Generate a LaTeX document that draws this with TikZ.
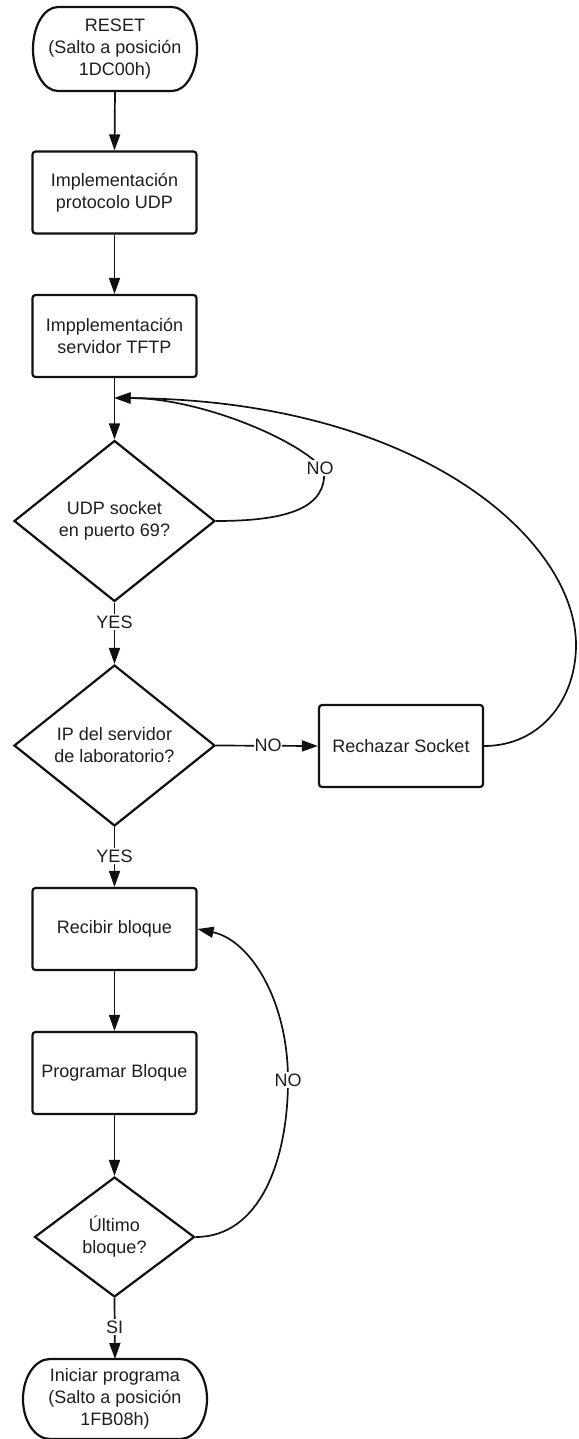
\documentclass[tikz,border=0pt]{standalone}
\usepackage{fontspec}
\setmainfont{Liberation Sans}
\usetikzlibrary{shapes.geometric,arrows.meta}
\definecolor{ink}{HTML}{111111}
\definecolor{txt}{HTML}{1E1E1E}
\begin{document}
\begin{tikzpicture}[x=1pt,y=-1pt,
  font=\fontsize{18}{22}\selectfont,
  border/.style={draw=ink, line width=2.2pt},
  process/.style={border, rounded corners=3pt, minimum width=164pt,
    minimum height=82pt, align=center, inner sep=0pt, text=txt},
  decision/.style={diamond, border, aspect=1.25, inner sep=0pt,
    minimum width=201pt, minimum height=161pt, align=center, text=txt},
  terminal/.style={minimum height=84pt, inner sep=0pt, outer sep=0pt,
    align=center, text=txt},
  flow/.style={draw=ink, line width=1.7pt, -{Triangle[length=16pt,width=11pt]}},
  tag/.style={fill=white, inner sep=1.5pt, text=txt}
]
\useasboundingbox (0,0) rectangle (578,1439);

% main column
\node[terminal, minimum width=164pt] (reset) at (115,49)
  {RESET\\(Salto a posición\\1DC00h)};
\node[process] (udp)  at (114.5,192.5) {Implementación\\protocolo UDP};
\node[process] (tftp) at (114.5,336) {Impplementación\\servidor TFTP};
\coordinate (j) at (114.5,398);
\node[decision] (port) at (114.5,521) {UDP socket\\en puerto 69?};
\node[decision] (ip)   at (114.5,745.5) {IP del servidor\\de laboratorio?};
\node[process] (rej)  at (401,746) {Rechazar Socket};
\node[process] (recv) at (114.5,929) {Recibir bloque};
\node[process] (prog) at (114.5,1073) {Programar Bloque};
\node[decision, minimum width=160pt, minimum height=120pt] (last)
  at (114.5,1237) {Último\\bloque?};
\node[terminal, minimum width=184pt, minimum height=80pt] (run) at (115,1399)
  {Iniciar programa\\(Salto a posición\\1FB08h)};

% terminator outlines with elliptic ends
\draw[border] ([xshift=25pt]reset.north west) -- ([xshift=-25pt]reset.north east)
  arc[start angle=90, end angle=-90, x radius=25pt, y radius=42pt]
  -- ([xshift=25pt]reset.south west)
  arc[start angle=270, end angle=90, x radius=25pt, y radius=42pt] -- cycle;
\draw[border] ([xshift=27pt]run.north west) -- ([xshift=-27pt]run.north east)
  arc[start angle=90, end angle=-90, x radius=27pt, y radius=40pt]
  -- ([xshift=27pt]run.south west)
  arc[start angle=270, end angle=90, x radius=27pt, y radius=40pt] -- cycle;

% straight connectors
\draw[flow] (reset.south) -- (udp.north);
\draw[flow] (udp.south) -- (tftp.north);
\draw[flow] (tftp.south) -- (port.north);
\draw[flow] (port.south) -- node[tag, pos=0.32] {YES} (ip.north);
\draw[flow] (ip.south) -- node[tag, pos=0.48] {YES} (recv.north);
\draw[flow] (ip.east) -- node[tag, pos=0.51, inner sep=0.5pt] {NO} (rej.west);
\draw[flow] (recv.south) -- (prog.north);
\draw[flow] (prog.south) -- (last.north);
\draw[flow] (last.south) -- node[tag, pos=0.48] {SI} (run.north);

% loop back from the port test
\draw[flow] (port.east) .. controls (290,521) and (327,507) .. (324,470)
  .. controls (300,440) and (200,398) .. (j);
\node[tag] (no1) at (320,468) {NO};

% rejected socket returns to the port test
\draw[flow] (rej.east) .. controls (540,746) and (576,700) .. (576,645)
  .. controls (576,540) and (420,400) .. (j);

% next block loop
\draw[flow] (last.east) .. controls (260,1237) and (288,1160) .. (288,1080)
  .. controls (288,1000) and (250,940) .. (recv.east);
\node[tag] (no2) at (288,1080) {NO};
\end{tikzpicture}
\end{document}
